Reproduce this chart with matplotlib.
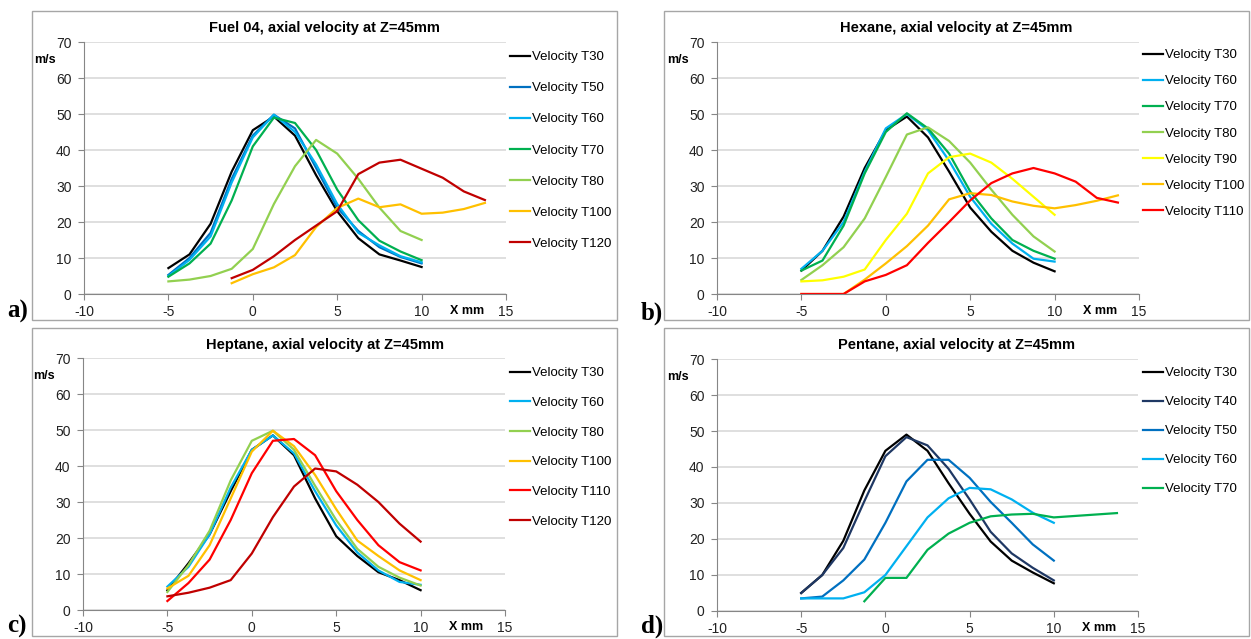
import matplotlib
matplotlib.use("Agg")
import matplotlib.pyplot as plt
from matplotlib.patches import Rectangle

# ------------------------------------------------------------------
# radial positions (mm), measured every 1.25 mm
x_pos = [-5, -3.75, -2.5, -1.25, 0, 1.25, 2.5, 3.75, 5, 6.25, 7.5, 8.75, 10, 11.25, 12.5, 13.75]

# a) Fuel 04
fuel04_t30 = [7.2, 11, 19.5, 34, 45.5, 49.3, 44, 33, 23, 15.5, 11, 9.3, 7.5]
fuel04_t50 = [5.3, 10, 17, 32, 44, 49.8, 46, 35, 24, 17.5, 13, 10.3, 8.5]
fuel04_t60 = [5, 9.5, 16, 31, 43.5, 49.8, 45, 36, 25, 17, 13.5, 10.5, 8.8]
fuel04_t70 = [4.8, 8.5, 14, 26, 41, 49, 47.5, 40, 29, 20.5, 14.8, 11.8, 9.4]
fuel04_t80 = [3.5, 4, 5, 7, 12.5, 25, 35.5, 42.8, 39, 32, 24, 17.5, 15]
fuel04_t100 = [3, 5.5, 7.4, 10.8, 18.6, 23.9, 26.5, 24.1, 24.9, 22.3, 22.6, 23.6, 25.3]
fuel04_t120 = [4.4, 6.7, 10.5, 15, 19, 23, 33.3, 36.5, 37.3, 34.8, 32.3, 28.5, 26.1]

# b) Hexane
hexane_t30 = [6.5, 12, 21.5, 35, 45.5, 49.3, 43.5, 34, 24, 17.3, 12, 8.7, 6.3]
hexane_t60 = [7, 12, 20, 34, 46, 50, 45.5, 37, 27, 19.5, 14, 9.8, 9]
hexane_t70 = [6.5, 9.3, 19, 33.5, 45, 50.2, 46, 39, 28.5, 21, 15, 12, 9.8]
hexane_t80 = [3.9, 8, 13, 21, 32.5, 44.3, 46.3, 42.5, 36.5, 29, 22, 16, 11.8]
hexane_t90 = [3.5, 3.8, 4.8, 6.8, 15, 22.3, 33.5, 38, 39, 36.5, 32, 27, 22]
hexane_t100 = [0, 0, 0, 4, 8.5, 13.3, 19, 26.3, 28, 27.5, 25.7, 24.5, 23.8, 24.7, 25.9, 27.4]
hexane_t110 = [0, 0, 0, 3.5, 5.3, 8, 14.2, 20, 26, 30.8, 33.5, 35, 33.5, 31.2, 26.7, 25.4]

# c) Heptane
heptane_t30 = [5.5, 13, 21, 33, 44.5, 48.5, 43, 31, 20.5, 15, 10.5, 8.3, 5.5]
heptane_t60 = [6.5, 12, 21, 34, 44.5, 48.5, 43.5, 33, 23.5, 16, 11, 7.8, 7]
heptane_t80 = [5, 12.5, 22, 36, 47, 49.8, 44.5, 34.5, 25, 17, 12, 9, 6.8]
heptane_t100 = [6, 9.5, 18, 31, 44, 49.8, 45.5, 37.5, 28, 19.3, 15, 11, 8.3]
heptane_t110 = [2.5, 7.5, 14, 25, 38, 47, 47.5, 43, 33, 25, 18, 13.3, 11]
heptane_t120 = [3.8, 4.8, 6.2, 8.3, 15.7, 25.8, 34.3, 39.3, 38.5, 34.8, 30, 24, 19]

# d) Pentane
pentane_t30 = [5, 10, 19.5, 33.5, 44.5, 49, 44.5, 35.5, 27, 19.3, 14, 10.7, 7.7]
pentane_t40 = [5, 10, 17.5, 30.5, 43, 48.3, 46, 39.5, 31, 22, 16, 12, 8.5]
pentane_t50 = [3.5, 4, 8.5, 14.3, 24.5, 36, 42, 42, 37, 30.3, 24.5, 18.5, 14]
pentane_t60 = [3.5, 3.5, 3.5, 5.2, 10, 18, 26, 31.3, 34.2, 33.8, 31, 27.3, 24.5]
pentane_t70 = [2.7, 9.2, 9.2, 17, 21.5, 24.5, 26.3, 26.8, 27, 26, 26.4, 26.8, 27.2]
# ------------------------------------------------------------------

BLACK = "#000000"
NAVY = "#1F3864"
BLUE = "#0070C0"
LBLUE = "#00B0F0"
GREEN = "#00B050"
LGREEN = "#92D050"
YELLOW = "#FFFF00"
ORANGE = "#FFC000"
RED = "#FF0000"
DRED = "#C00000"


def xs_for(vals, start=0):
    return x_pos[start:start + len(vals)]


panels = [
    dict(title="Fuel 04, axial velocity at Z=45mm", letter="a)",
         series=[("Velocity T30", fuel04_t30, 0, BLACK),
                 ("Velocity T50", fuel04_t50, 0, BLUE),
                 ("Velocity T60", fuel04_t60, 0, LBLUE),
                 ("Velocity T70", fuel04_t70, 0, GREEN),
                 ("Velocity T80", fuel04_t80, 0, LGREEN),
                 ("Velocity T100", fuel04_t100, 3, ORANGE),
                 ("Velocity T120", fuel04_t120, 3, DRED)],
         frame=(32, 11, 617, 320), ax_px=(84, 42, 506, 294),
         leg=(510, 51), spacing=1.43, letter_px=(7, 318)),
    dict(title="Hexane, axial velocity at Z=45mm", letter="b)",
         series=[("Velocity T30", hexane_t30, 0, BLACK),
                 ("Velocity T60", hexane_t60, 0, LBLUE),
                 ("Velocity T70", hexane_t70, 0, GREEN),
                 ("Velocity T80", hexane_t80, 0, LGREEN),
                 ("Velocity T90", hexane_t90, 0, YELLOW),
                 ("Velocity T100", hexane_t100, 0, ORANGE),
                 ("Velocity T110", hexane_t110, 0, RED)],
         frame=(664, 11, 1249, 320), ax_px=(717, 42, 1139, 294),
         leg=(1143, 49), spacing=1.05, letter_px=(641, 320)),
    dict(title="Heptane, axial velocity at Z=45mm", letter="c)",
         series=[("Velocity T30", heptane_t30, 0, BLACK),
                 ("Velocity T60", heptane_t60, 0, LBLUE),
                 ("Velocity T80", heptane_t80, 0, LGREEN),
                 ("Velocity T100", heptane_t100, 0, ORANGE),
                 ("Velocity T110", heptane_t110, 0, RED),
                 ("Velocity T120", heptane_t120, 0, DRED)],
         frame=(32, 328, 617, 636), ax_px=(83, 358, 505, 610),
         leg=(510, 367), spacing=1.32, letter_px=(7, 633)),
    dict(title="Pentane, axial velocity at Z=45mm", letter="d)",
         series=[("Velocity T30", pentane_t30, 0, BLACK),
                 ("Velocity T40", pentane_t40, 0, NAVY),
                 ("Velocity T50", pentane_t50, 0, BLUE),
                 ("Velocity T60", pentane_t60, 0, LBLUE),
                 ("Velocity T70", pentane_t70, 3, GREEN)],
         frame=(664, 328, 1249, 636), ax_px=(717, 359, 1138, 611),
         leg=(1143, 367), spacing=1.27, letter_px=(641, 633)),
]

W, H = 1251, 639
plt.rcParams["font.family"] = ["Liberation Sans", "DejaVu Sans"]
plt.rcParams["axes.unicode_minus"] = False
fig = plt.figure(figsize=(W / 100, H / 100), dpi=100)
fig.patch.set_facecolor("white")

GRID = "#D9D9D9"
AXIS = "#868686"

for p in panels:
    fl, ft, fr, fb = p["frame"]
    fig.patches.append(Rectangle((fl / W, 1 - fb / H), (fr - fl) / W, (fb - ft) / H,
                                 transform=fig.transFigure, fill=False,
                                 edgecolor="#A6A6A6", lw=1.0))
    l, t, r, b = p["ax_px"]
    ax = fig.add_axes([l / W, 1 - b / H, (r - l) / W, (b - t) / H])
    lines = []
    for label, vals, start, color in p["series"]:
        ln, = ax.plot(xs_for(vals, start), vals, color=color, lw=1.6, label=label)
        lines.append(ln)
    ax.set_xlim(-10, 15)
    ax.set_ylim(0, 70)
    ax.set_xticks([-10, -5, 0, 5, 10, 15])
    ax.set_yticks(range(0, 71, 10))
    ax.grid(axis="y", color=GRID, lw=1.2)
    ax.set_axisbelow(True)
    for s in ["top", "right"]:
        ax.spines[s].set_visible(False)
    for s in ["left", "bottom"]:
        ax.spines[s].set_color(AXIS)
    ax.tick_params(direction="out", length=4, color=AXIS, labelsize=10,
                   labelcolor="#222222", pad=4)
    ax.tick_params(axis="y", pad=5)

    ax.annotate("m/s", xy=(0, 1), xycoords="axes fraction", xytext=(-39, -18),
                textcoords="offset pixels", ha="center", va="center",
                fontsize=9, fontweight="bold")
    ax.annotate("X mm", xy=(12.7, 0), xycoords="data", xytext=(0, -17),
                textcoords="offset pixels", ha="center", va="center",
                fontsize=9, fontweight="bold", annotation_clip=False)

    fig.text((fl + fr) / 2 / W, 1 - (ft + 17) / H, p["title"], ha="center",
             va="center", fontsize=10.5, fontweight="bold")

    lx, ly = p["leg"]
    ax.legend(handles=lines, loc="upper left", bbox_to_anchor=(lx / W, 1 - ly / H),
              bbox_transform=fig.transFigure, frameon=False, fontsize=9.5,
              borderpad=0, borderaxespad=0, handlelength=1.5, handletextpad=0.15,
              labelspacing=p["spacing"])

    lxp, lyp = p["letter_px"]
    fig.text(lxp / W, 1 - lyp / H, p["letter"], ha="left", va="baseline",
             fontsize=18, fontweight="bold", family=["Liberation Serif", "DejaVu Serif"])

fig.savefig("out.png", dpi=100)
